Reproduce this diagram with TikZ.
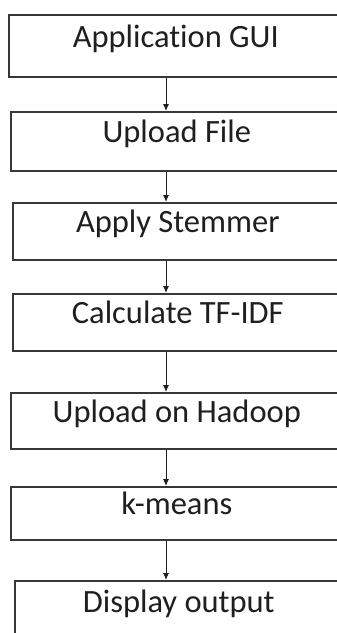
\documentclass[tikz,border=0pt]{standalone}
\usepackage{fontspec}
\setmainfont{Carlito}[Ligatures={NoCommon}]
\usetikzlibrary{arrows.meta}
\begin{document}
\begin{tikzpicture}[x=1pt, y=-1pt,
        stagebox/.style={draw=black!78, line width=1.6pt, anchor=north west, inner sep=0pt,
            text=black!88, font=\fontsize{32.5}{38}\selectfont, text height=0.7em, text depth=0.45em},
        flow/.style={draw=black!88, line width=1pt, -{Latex[length=7pt,width=6pt]}}]
            \useasboundingbox (0,0) rectangle (337,633);
            \clip (0,0) rectangle (337,633);
            \fill[white] (0,0) rectangle (337,633);
            % the stages, top to bottom
            \node[stagebox, minimum width=334pt, minimum height=62pt] (gui) at (8,14) {Application GUI};
            \node[stagebox, minimum width=332pt, minimum height=59pt] (upload) at (10,111) {Upload File};
            \node[stagebox, minimum width=330pt, minimum height=57pt] (stem) at (12,202) {Apply Stemmer};
            \node[stagebox, minimum width=330pt, minimum height=57pt] (tfidf) at (12,293) {Calculate TF-IDF};
            \node[stagebox, minimum width=332pt, minimum height=56pt] (hadoop) at (10,392) {Upload on Hadoop};
            \node[stagebox, minimum width=332pt, minimum height=53pt] (kmeans) at (10,486) {k-means};
            \node[stagebox, minimum width=328pt, minimum height=60pt] (display) at (14,580) {Display output};
            % arrows
            \coordinate (ax) at (166,0);
            \draw[flow] (gui.south -| ax) -- (upload.north -| ax);
            \draw[flow] (upload.south -| ax) -- (stem.north -| ax);
            \draw[flow] (stem.south -| ax) -- (tfidf.north -| ax);
            \draw[flow] (tfidf.south -| ax) -- (hadoop.north -| ax);
            \draw[flow] (hadoop.south -| ax) -- (kmeans.north -| ax);
            \draw[flow] (kmeans.south -| ax) -- (display.north -| ax);
        \end{tikzpicture}
\end{document}
